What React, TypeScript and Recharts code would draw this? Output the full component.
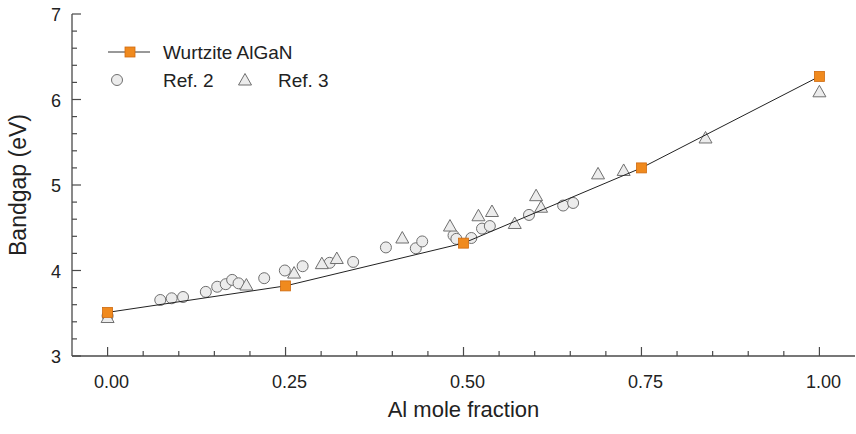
import React from 'react';
import { ScatterChart, Scatter, XAxis, YAxis, Legend, Label } from 'recharts';

// ---------- data ----------
const wurtziteX = [0, 0.25, 0.5, 0.75, 1.0];
const wurtziteGap = [3.51, 3.82, 4.32, 5.2, 6.27];

const ref2X = [0, 0.074, 0.09, 0.106, 0.138, 0.154, 0.166, 0.175, 0.184, 0.22, 0.249, 0.274, 0.312, 0.345, 0.391, 0.433, 0.442, 0.486, 0.49, 0.511, 0.526, 0.537, 0.592, 0.64, 0.654];
const ref2Gap = [3.47, 3.655, 3.675, 3.69, 3.75, 3.81, 3.84, 3.89, 3.85, 3.91, 4.0, 4.05, 4.09, 4.1, 4.27, 4.26, 4.34, 4.41, 4.37, 4.38, 4.49, 4.52, 4.65, 4.76, 4.79];

const ref3X = [0, 0.195, 0.262, 0.301, 0.322, 0.414, 0.481, 0.521, 0.54, 0.572, 0.602, 0.609, 0.689, 0.725, 0.84, 1.0];
const ref3Gap = [3.45, 3.83, 3.97, 4.08, 4.14, 4.38, 4.52, 4.64, 4.69, 4.55, 4.875, 4.74, 5.13, 5.17, 5.55, 6.09];

const xMajorTicks = [0, 0.25, 0.5, 0.75, 1.0];
const xMinorTicks = [0.05, 0.1, 0.15, 0.2, 0.3, 0.35, 0.4, 0.45, 0.55, 0.6, 0.65, 0.7, 0.8, 0.85, 0.9, 0.95];
const yMajorTicks = [3, 4, 5, 6, 7];
const yMinorTicks = [3.2, 3.4, 3.6, 3.8, 4.2, 4.4, 4.6, 4.8, 5.2, 5.4, 5.6, 5.8, 6.2, 6.4, 6.6, 6.8];

const seriesNames = ['Wurtzite AlGaN', 'Ref. 2', 'Ref. 3'];
const xTitle = 'Al mole fraction';
const yTitle = 'Bandgap (eV)';

// ---------- built tables ----------
const wurtziteData = wurtziteX.map((x, i) => ({ x, y: wurtziteGap[i] }));
const ref2Data = ref2X.map((x, i) => ({ x, y: ref2Gap[i] }));
const ref3Data = ref3X.map((x, i) => ({ x, y: ref3Gap[i] }));
const xTicks = [...xMajorTicks, ...xMinorTicks].sort((a, b) => a - b);
const yTicks = [...yMajorTicks, ...yMinorTicks].sort((a, b) => a - b);

// ---------- style ----------
const FONT = '"Liberation Sans", Arial, sans-serif';
const AXIS = '#4a4a4a';
const TEXT = '#222';
const M = 10;
const MAJOR = 9;
const MINOR = 5;
const SQ_FILL = '#f08a1e';
const SQ_STROKE = '#cf6a10';
const MK_FILL = '#ececec';
const MK_STROKE = '#6f6f6f';

const isIn = (v: number, arr: number[]) => arr.some((a) => Math.abs(a - v) < 1e-6);

const BottomTick = (props: any) => {
  const { x, y, payload } = props;
  const axisY = y - M;
  const major = isIn(payload.value, xMajorTicks);
  return (
    <g>
      <line x1={x} x2={x} y1={axisY} y2={axisY - (major ? MAJOR : MINOR)} stroke={AXIS} strokeWidth={1.2} />
      {major && (
        <text x={x + 4} y={axisY + 32} textAnchor="middle" fontFamily={FONT} fontSize={18} fill={TEXT}>
          {Number(payload.value).toFixed(2)}
        </text>
      )}
    </g>
  );
};

const TopTick = (props: any) => {
  const { x, y, payload } = props;
  const axisY = y + M;
  const major = isIn(payload.value, xMajorTicks);
  return <line x1={x} x2={x} y1={axisY} y2={axisY + (major ? MAJOR : MINOR)} stroke={AXIS} strokeWidth={1.2} />;
};

const LeftTick = (props: any) => {
  const { x, y, payload } = props;
  const axisX = x + M;
  const major = isIn(payload.value, yMajorTicks);
  return (
    <g>
      <line x1={axisX} x2={axisX + (major ? MAJOR : MINOR)} y1={y} y2={y} stroke={AXIS} strokeWidth={1.2} />
      {major && (
        <text x={axisX - 11} y={y + 7} textAnchor="end" fontFamily={FONT} fontSize={18} fill={TEXT}>
          {String(payload.value)}
        </text>
      )}
    </g>
  );
};

const RightTick = (props: any) => {
  const { x, y, payload } = props;
  const axisX = x - M;
  const major = isIn(payload.value, yMajorTicks);
  return <line x1={axisX} x2={axisX - (major ? MAJOR : MINOR)} y1={y} y2={y} stroke={AXIS} strokeWidth={1.2} />;
};

const SquareShape = (props: any) => {
  const { cx, cy } = props;
  return <rect x={cx - 5} y={cy - 5} width={10} height={10} fill={SQ_FILL} stroke={SQ_STROKE} strokeWidth={0.8} />;
};

const CircleShape = (props: any) => {
  const { cx, cy } = props;
  return <circle cx={cx} cy={cy} r={5.5} fill={MK_FILL} stroke={MK_STROKE} strokeWidth={1} />;
};

const TriangleShape = (props: any) => {
  const { cx, cy } = props;
  return (
    <polygon
      points={`${cx},${cy - 6.5} ${cx - 6.5},${cy + 5} ${cx + 6.5},${cy + 5}`}
      fill={MK_FILL}
      stroke={MK_STROKE}
      strokeWidth={1}
    />
  );
};

const LegendContent = () => (
  <svg width={260} height={60} style={{ display: 'block' }}>
    <line x1={8} x2={50} y1={14} y2={14} stroke="#333" strokeWidth={1} />
    <rect x={25} y={9} width={10} height={10} fill={SQ_FILL} stroke={SQ_STROKE} strokeWidth={0.8} />
    <text x={63} y={21} fontFamily={FONT} fontSize={19} fill={TEXT}>{seriesNames[0]}</text>
    <circle cx={17} cy={42} r={5.5} fill={MK_FILL} stroke={MK_STROKE} strokeWidth={1} />
    <text x={63} y={49} fontFamily={FONT} fontSize={19} fill={TEXT}>{seriesNames[1]}</text>
    <polygon points={`145,35.5 138.5,47 151.5,47`} fill={MK_FILL} stroke={MK_STROKE} strokeWidth={1} />
    <text x={178} y={49} fontFamily={FONT} fontSize={19} fill={TEXT}>{seriesNames[2]}</text>
  </svg>
);

export default function App() {
  return (
    <div style={{ position: 'absolute', left: 0, top: 0, width: 856, height: 434, background: '#fff' }}>
      <ScatterChart width={856} height={434} margin={{ top: 14, right: 1, left: 0, bottom: 0 }}>
        <XAxis
          xAxisId="bottom"
          dataKey="x"
          type="number"
          domain={[-0.05, 1.05]}
          ticks={xTicks}
          interval={0}
          height={78}
          tickSize={0}
          tickMargin={M}
          tickLine={false}
          tick={<BottomTick />}
          axisLine={{ stroke: AXIS, strokeWidth: 1.3 }}
          allowDataOverflow
        >
          <Label value={xTitle} position="insideBottom" offset={17} style={{ fontFamily: FONT, fontSize: 22, fill: TEXT }} />
        </XAxis>
        <XAxis
          xAxisId="top"
          orientation="top"
          dataKey="x"
          type="number"
          domain={[-0.05, 1.05]}
          ticks={xTicks}
          interval={0}
          height={0}
          tickSize={0}
          tickMargin={M}
          tickLine={false}
          tick={<TopTick />}
          axisLine={{ stroke: AXIS, strokeWidth: 1.3 }}
          allowDataOverflow
        />
        <YAxis
          yAxisId="left"
          dataKey="y"
          type="number"
          domain={[3, 7]}
          ticks={yTicks}
          interval={0}
          width={72}
          tickSize={0}
          tickMargin={M}
          tickLine={false}
          tick={<LeftTick />}
          axisLine={{ stroke: AXIS, strokeWidth: 1.3 }}
          allowDataOverflow
        >
          <Label
            value={yTitle}
            angle={-90}
            position="insideLeft"
            offset={18}
            style={{ fontFamily: FONT, fontSize: 23, fill: TEXT, textAnchor: 'middle' }}
          />
        </YAxis>
        <YAxis
          yAxisId="right"
          orientation="right"
          dataKey="y"
          type="number"
          domain={[3, 7]}
          ticks={yTicks}
          interval={0}
          width={0}
          tickSize={0}
          tickMargin={M}
          tickLine={false}
          tick={<RightTick />}
          axisLine={{ stroke: AXIS, strokeWidth: 1.3 }}
          allowDataOverflow
        />
        <Legend
          layout="horizontal"
          verticalAlign="middle"
          align="center"
          content={<LegendContent />}
          wrapperStyle={{ left: 100, top: 38, width: 260, height: 60 }}
        />
        <Scatter
          name={seriesNames[1]}
          data={ref2Data}
          xAxisId="bottom"
          yAxisId="left"
          shape={<CircleShape />}
          isAnimationActive={false}
        />
        <Scatter
          name={seriesNames[2]}
          data={ref3Data}
          xAxisId="bottom"
          yAxisId="left"
          shape={<TriangleShape />}
          isAnimationActive={false}
        />
        <Scatter
          name={seriesNames[0]}
          data={wurtziteData}
          xAxisId="bottom"
          yAxisId="left"
          line={{ stroke: '#222', strokeWidth: 1 }}
          lineJointType="linear"
          shape={<SquareShape />}
          isAnimationActive={false}
        />
      </ScatterChart>
    </div>
  );
}
